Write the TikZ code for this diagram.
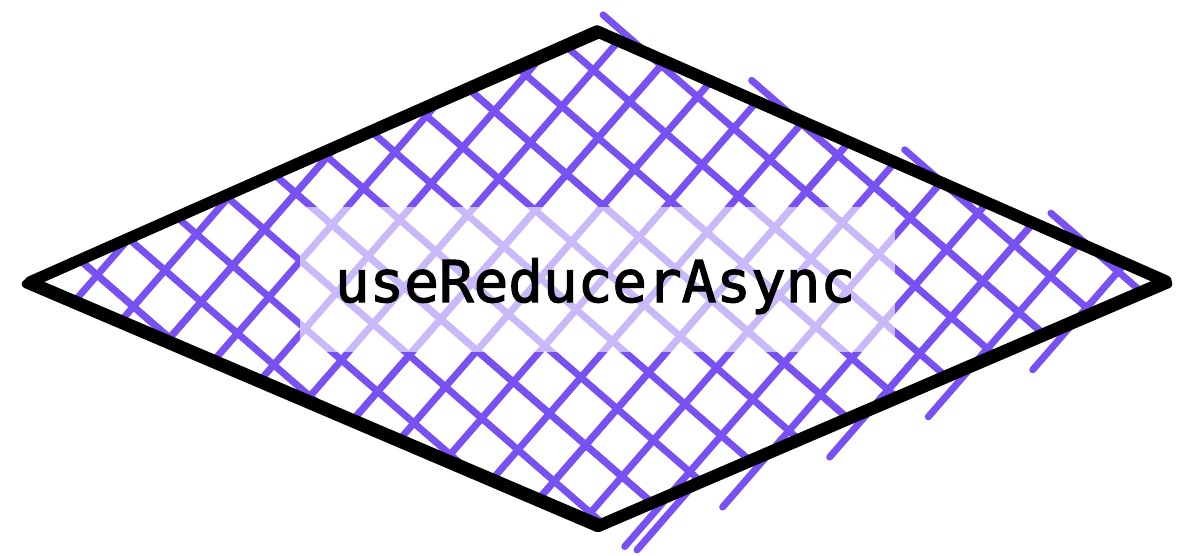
\documentclass[tikz,border=0pt]{standalone}
\usepackage{fontspec}
\usepackage{tikz}
\usepackage{xcolor}
\newfontfamily\codefont{DejaVu Sans Mono}[FakeBold=2]
\definecolor{hatchviolet}{HTML}{7950F2}

\begin{document}
\begin{tikzpicture}[x=0.75pt,y=0.75pt,yscale=-1,xscale=1]
    \useasboundingbox (0,0) rectangle (1195,556);
    \tikzset{hatchline/.style={draw=hatchviolet, line width=5.2pt, line cap=round},
             roughedge/.style={draw=black, line width=8.6pt, line join=round, line cap=round}}
    
    %Shape: Diamond corners
    \coordinate (west) at (30,282);
    \coordinate (north) at (597,31);
    \coordinate (east) at (1166,281);
    \coordinate (south) at (600,525);
    
    %Hatch fill, clipped to the diamond
    \begin{scope}
    \clip (west) -- (north) -- (east) -- (south) -- cycle;
    \foreach \k in {-13,...,5}
        \draw [hatchline] ({481.7-31.5*\k-620*0.755},{418.3+36.24*\k-620*0.656}) -- ({481.7-31.5*\k+620*0.755},{418.3+36.24*\k+620*0.656});
    \foreach \k in {-10,...,10}
        \draw [hatchline] ({481.7+36.24*\k-240*0.656},{418.3+31.5*\k+240*0.755}) -- ({481.7+36.24*\k+600*0.656},{418.3+31.5*\k-600*0.755});
    % a few strokes drawn twice, a bit off
    \foreach \k in {-9,-5,-1,3}
        \draw [hatchline] ({483.7-31.5*\k-620*0.755},{420.3+36.24*\k-620*0.656}) -- ({479.7-31.5*\k+620*0.755},{416.3+36.24*\k+620*0.656});
    \foreach \k in {-6,-2,2,6}
        \draw [hatchline] ({479.7+36.24*\k-240*0.656},{420.3+31.5*\k+240*0.755}) -- ({483.7+36.24*\k+600*0.656},{416.3+31.5*\k-600*0.755});
    \end{scope}
    
    %Hatch strokes running out over the edge
    \foreach \k/\t in {-8/-173,-9/-18,-10/143,-11/295}
        \draw [hatchline] ({481.7-31.5*\k+0.755*\t},{418.3+36.24*\k+0.656*\t}) -- ({481.7-31.5*\k+0.755*(\t+90)},{418.3+36.24*\k+0.656*(\t+90)});
    \foreach \k/\t in {4/-3,5/91,6/199,7/294,8/398}
        \draw [hatchline] ({481.7+36.24*\k+0.656*\t},{418.3+31.5*\k-0.755*\t}) -- ({481.7+36.24*\k+0.656*(\t+90)},{418.3+31.5*\k-0.755*(\t+90)});
    \draw [hatchline] (637,550) -- (690,489);
    
    %Shape: Rectangle behind the label
    \fill [white, fill opacity=0.6] (300,207) rectangle (895,352);
    
    %Shape: Diamond outline, drawn twice
    \draw [roughedge] (west) -- (north) -- (east) -- (south) -- cycle;
    \draw [roughedge, line width=6.5pt] (26,284) -- (599,34) -- (1168,284) -- (598,528) -- cycle;
    
    % Text Node
    \node (label) [anchor=base, inner sep=0.75pt, font=\codefont\fontsize{43.2}{52}\selectfont] at (595,302) {useReducerAsync};
    
\end{tikzpicture}
\end{document}
